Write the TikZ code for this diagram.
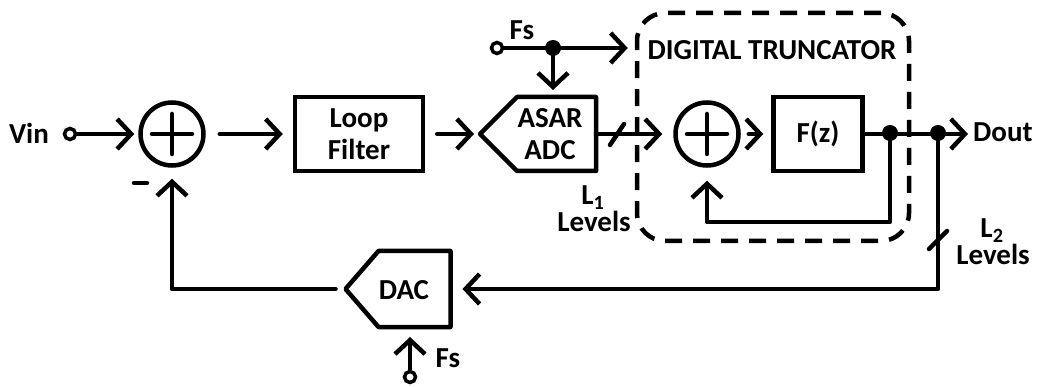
\documentclass[tikz,border=0pt]{standalone}
\usepackage{fontspec}
\setmainfont{Carlito}
\usetikzlibrary{arrows.meta,calc}
\begin{document}
\begin{tikzpicture}[x=1pt,y=-1pt,
  wire/.style={line width=4.5pt, line cap=round, line join=round},
  sig/.style={wire, -{Straight Barb[length=14pt,width=30pt]}},
  blk/.style={draw, line width=4.5pt, inner sep=0pt, align=center,
    font=\fontsize{29}{32}\selectfont\bfseries},
  sumnode/.style={circle, draw, line width=4.5pt, minimum size=63pt, inner sep=0pt},
  dotn/.style={circle, fill, minimum size=16pt, inner sep=0pt},
  term/.style={circle, draw, fill=white, line width=3.5pt, minimum size=11pt, inner sep=0pt},
  lbl/.style={inner sep=0pt, align=center, font=\fontsize{29}{32}\selectfont\bfseries},
  lvl/.style={lbl, anchor=base},
  ghost/.style={inner sep=0pt, outer sep=0pt},
  trunc/.style={draw, line width=4.5pt, dash pattern=on 17pt off 11pt, rounded corners=28pt, inner sep=0pt}]
\useasboundingbox (0,0) rectangle (1046,387);

% digital truncator frame
\node[trunc, minimum width=272pt, minimum height=228pt] (dt) at (773,127) {};
\node[lbl] (dttxt) at (772,50) {DIGITAL TRUNCATOR};

% input and first summer
\node[lbl] (vin) at (29,133) {Vin};
\node[term] (vint) at (70,134) {};
\node[sumnode] (s1) at (172,134) {};
\draw[wire] ($(s1.center)+(-20,0)$) -- ($(s1.center)+(20,0)$);
\draw[wire] ($(s1.center)+(0,-20)$) -- ($(s1.center)+(0,20)$);
\coordinate (m1) at (134,183);
\coordinate (m2) at (147,183);
\draw[wire] (m1) -- (m2);

% loop filter
\node[blk, minimum width=128pt, minimum height=74pt] (lf) at (359,134) {Loop\\Filter};

% ASAR ADC
\node[ghost, minimum width=116pt, minimum height=74pt] (adc) at (538,134) {};
\draw[wire] (adc.west) -- ([xshift=37pt]adc.north west) -- (adc.north east)
  -- (adc.south east) -- ([xshift=37pt]adc.south west) -- cycle;
\node[lbl] (adctxt) at ([xshift=12pt]adc.center) {ASAR\\ADC};

% sampling clock on top
\node[lbl] (fs1) at (522,30) {Fs};
\node[term] (fst) at (497,48) {};
\node[dotn] (d0) at (553,48) {};

% second summer and F(z)
\node[sumnode] (s2) at (707,134) {};
\draw[wire] ($(s2.center)+(-20,0)$) -- ($(s2.center)+(20,0)$);
\draw[wire] ($(s2.center)+(0,-20)$) -- ($(s2.center)+(0,20)$);
\node[blk, minimum width=89pt, minimum height=74pt] (fz) at (818,134) {F(z)};

\node[dotn] (d1) at (890,133) {};
\node[dotn] (d2) at (938,133) {};
\node[lbl, anchor=west] (dout) at (973,132) {Dout};

% DAC
\node[ghost, minimum width=105pt, minimum height=76pt] (dac) at (398,289) {};
\draw[wire] (dac.west) -- ([xshift=33pt]dac.north west) -- (dac.north east)
  -- (dac.south east) -- ([xshift=33pt]dac.south west) -- cycle;
\node[lbl] (dactxt) at (404,290) {DAC};
\node[term] (fsb) at (410,377) {};
\node[lbl] (fs2) at (448,358) {Fs};

% level labels
\node[lvl] (l1) at (593,205) {L\textsubscript{1}};
\node[lvl] (l1b) at (594,232) {Levels};
\node[lvl] (l2) at (992,238) {L\textsubscript{2}};
\node[lvl] (l2b) at (993,265) {Levels};

% forward path
\draw[sig, shorten >=4pt] (vint.east) -- (s1.west);
\draw[sig, shorten <=14pt, shorten >=10pt] (s1.east) -- (lf.west);
\draw[sig, shorten <=12pt, shorten >=6pt] (lf.east) -- (adc.west);
\draw[sig, shorten >=11pt] (adc.east) -- (s2.west);
\coordinate (sl1a) at (610,145);
\coordinate (sl1b) at (624,124);
\draw[wire] (sl1a) -- (sl1b);
\draw[sig, shorten <=8pt, shorten >=8pt] (s2.east) -- (fz.west);
\draw[sig, shorten >=5pt] (fz.east) -- (dout.west |- fz.east);

% clock distribution
\draw[wire] (fst.east) -- (d0.center);
\draw[sig, shorten >=7pt] (d0.center) -- (d0 -| dt.west);
\draw[sig, shorten >=7pt] (d0.center) -- (adc.north -| d0);
\draw[sig, shorten >=10pt] (fsb.north) -- (dac.south -| fsb);

% truncator feedback
\coordinate (fb1) at (890,222);
\draw[sig, shorten >=13pt] (d1.center) -- (fb1) -| (s2.south);

% main feedback through the DAC
\coordinate (fb2) at (938,289);
\draw[sig, shorten >=12pt] (d2.center) -- (fb2) -- (dac.east);
\coordinate (sl2a) at (929,249);
\coordinate (sl2b) at (947,231);
\draw[wire] (sl2a) -- (sl2b);
\coordinate (fb3) at (172,289);
\draw[sig, shorten <=10pt, shorten >=11pt] (dac.west) -- (fb3) -- (s1.south);
\end{tikzpicture}
\end{document}
